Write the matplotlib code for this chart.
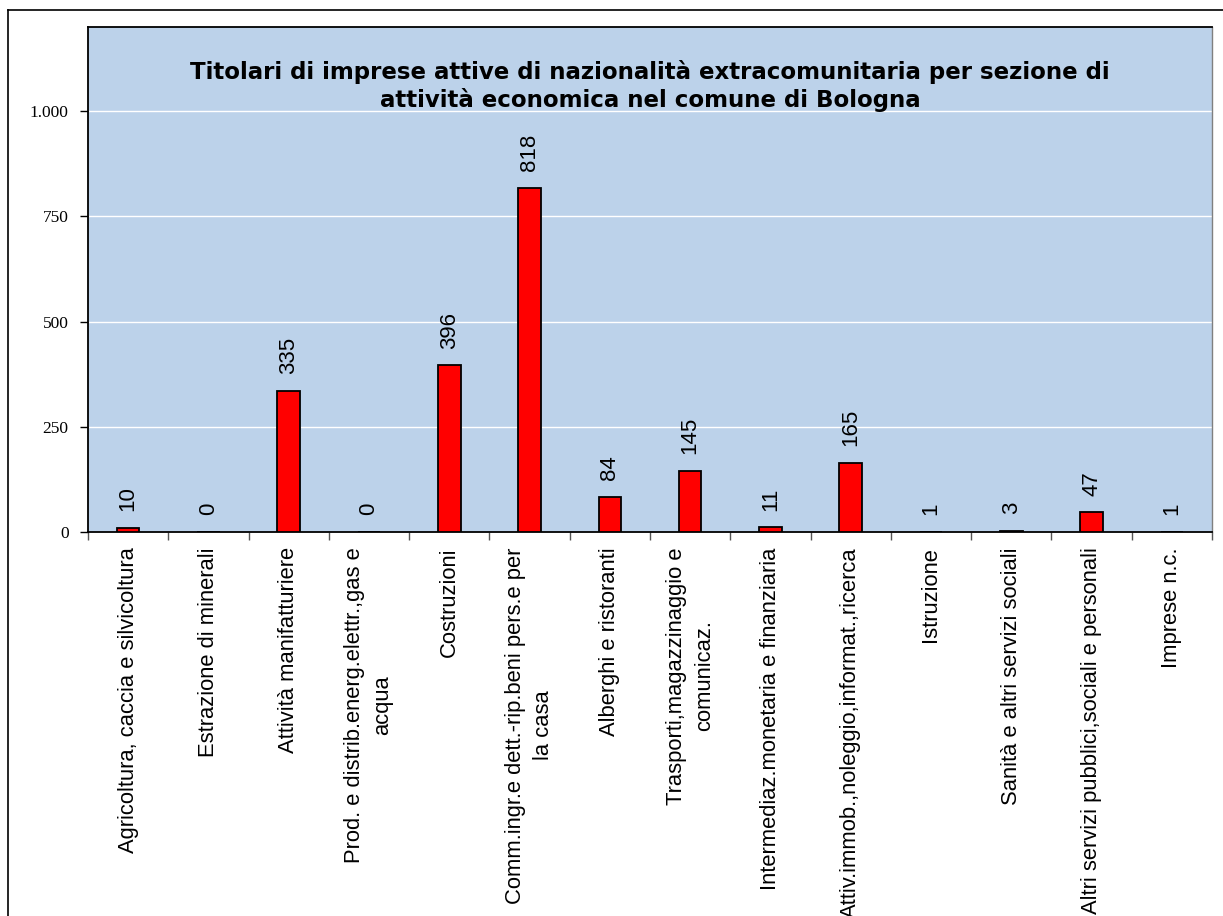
import matplotlib
matplotlib.use("Agg")
import matplotlib.pyplot as plt
from matplotlib.ticker import FuncFormatter, FixedLocator
from matplotlib.lines import Line2D
import numpy as np

categories = [
    "Agricoltura, caccia e silvicoltura",
    "Estrazione di minerali",
    "Attività manifatturiere",
    "Prod. e distrib.energ.elettr.,gas e\nacqua",
    "Costruzioni",
    "Comm.ingr.e dett.-rip.beni pers.e per\nla casa",
    "Alberghi e ristoranti",
    "Trasporti,magazzinaggio e\ncomunicaz.",
    "Intermediaz.monetaria e finanziaria",
    "Attiv.immob.,noleggio,informat.,ricerca",
    "Istruzione",
    "Sanità e altri servizi sociali",
    "Altri servizi pubblici,sociali e personali",
    "Imprese n.c.",
]
values = [10, 0, 335, 0, 396, 818, 84, 145, 11, 165, 1, 3, 47, 1]
yticks = [0, 250, 500, 750, 1000]
title = ("Titolari di imprese attive di nazionalità extracomunitaria per sezione di\n"
         "attività economica nel comune di Bologna")

W, H = 1223, 916
fig = plt.figure(figsize=(W / 100, H / 100), dpi=100)
fig.patch.set_facecolor("white")

# outer chart-area frame (top and left edges visible)
fig.add_artist(Line2D([8 / W, 1.0], [1 - 10 / H, 1 - 10 / H], transform=fig.transFigure,
                      color="black", lw=1.2))
fig.add_artist(Line2D([8 / W, 8 / W], [0, 1 - 10 / H], transform=fig.transFigure,
                      color="black", lw=1.2))

left, right = 88 / W, 1212 / W
bottom, top = 1 - 532 / H, 1 - 27 / H
ax = fig.add_axes([left, bottom, right - left, top - bottom])
ax.set_facecolor("#BCD2EA")

n = len(categories)
x = np.arange(n)
ax.bar(x, values, width=0.28, color="#FF0000", edgecolor="black", linewidth=1.3, zorder=3)

ax.set_xlim(-0.5, n - 0.5)
ax.set_ylim(0, 1200)

ax.yaxis.set_major_locator(FixedLocator(yticks))
ax.yaxis.set_major_formatter(FuncFormatter(lambda v, p: f"{int(v):,}".replace(",", ".")))
ax.grid(axis="y", color="white", linewidth=1.0, zorder=1)
ax.set_axisbelow(True)
ax.tick_params(axis="y", direction="out", length=6, width=1, color="black", pad=8)
for lab in ax.get_yticklabels():
    lab.set_fontfamily("Liberation Serif")
    lab.set_fontsize(12.5)

ax.set_xticks(x)
ax.set_xticklabels(categories, rotation=90, ha="center", va="top",
                   fontfamily="Liberation Sans", fontsize=15.8, linespacing=1.45,
                   multialignment="center")
ax.tick_params(axis="x", which="major", length=0, pad=11)
ax.set_xticks(np.arange(-0.5, n, 1.0), minor=True)
ax.tick_params(axis="x", which="minor", direction="out", length=6, width=1, color="#555555")

for s in ["left", "bottom", "top"]:
    ax.spines[s].set_color("black")
    ax.spines[s].set_linewidth(1.3)
ax.spines["right"].set_color("#808080")
ax.spines["right"].set_linewidth(1.0)

for xi, v in zip(x, values):
    ax.annotate(str(v), (xi, v), xytext=(0, 12), textcoords="offset points",
                rotation=90, ha="center", va="bottom",
                fontfamily="Liberation Sans", fontsize=16, zorder=4)

ax.text(0.5, 1 - 59 / 505, title, transform=ax.transAxes, ha="center", va="center",
        fontfamily="DejaVu Sans", fontweight="bold", fontsize=16.5, linespacing=1.22)

fig.savefig("out.png", dpi=100)
